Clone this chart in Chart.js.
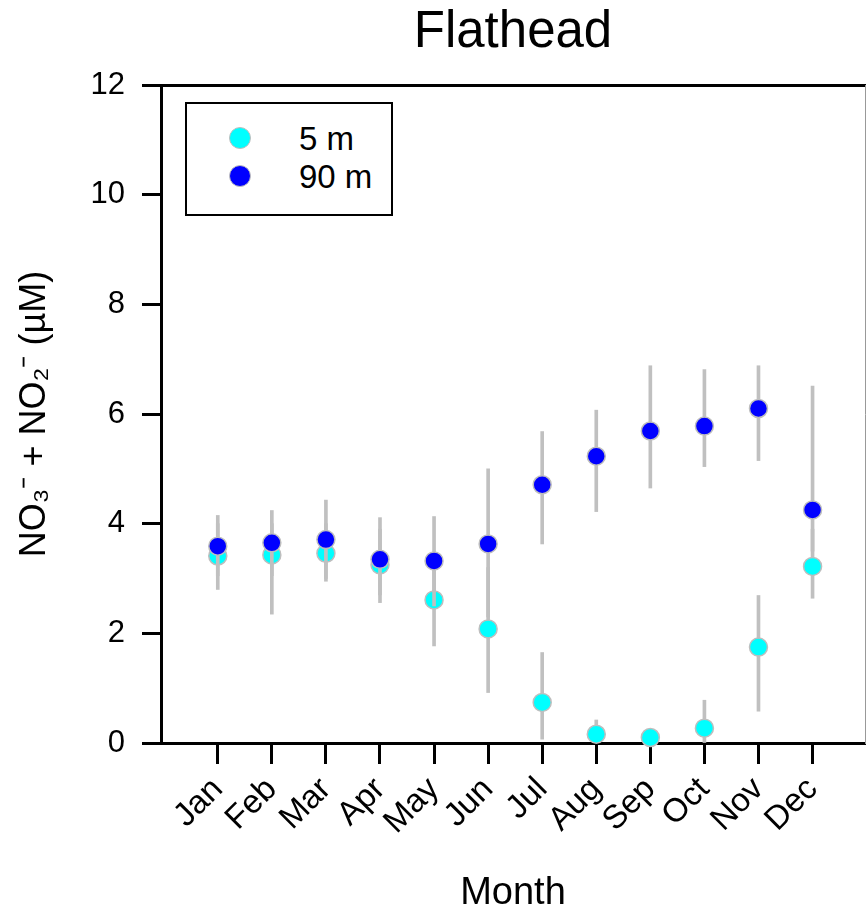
<!DOCTYPE html>
<html>
<head>
<meta charset="utf-8">
<script src="https://cdn.jsdelivr.net/npm/chart.js@4.4.0/dist/chart.umd.min.js"></script>
<style>
  body { margin: 0; background: #fff; }
  #wrap { position: relative; width: 866px; height: 914px; }
  #legend {
    position: absolute; left: 185px; top: 102px; width: 204px; height: 110px;
    border: 2px solid #000; background: #fff;
    font-family: "Liberation Sans", Arial, sans-serif; font-size: 33px; color: #000;
  }
  .item { position: absolute; left: 0; width: 100%; height: 30px; line-height: 30px; }
  .dot { position: absolute; left: 42px; top: 3px; width: 20px; height: 20px; border-radius: 50%; }
  .lbl { position: absolute; left: 112px; white-space: nowrap; }
</style>
</head>
<body>
<div id="wrap">
  <canvas id="chart" width="866" height="914"></canvas>
  <div id="legend"></div>
</div>
<script>
const months = ['Jan', 'Feb', 'Mar', 'Apr', 'May', 'Jun', 'Jul', 'Aug', 'Sep', 'Oct', 'Nov', 'Dec'];
const yTicks = [0, 2, 4, 6, 8, 10, 12];

// means
const surface5m = [3.41, 3.43, 3.46, 3.25, 2.61, 2.08, 0.74, 0.16, 0.10, 0.27, 1.75, 3.22];
const deep90m   = [3.59, 3.65, 3.71, 3.35, 3.32, 3.63, 4.71, 5.23, 5.69, 5.78, 6.10, 4.25];

// error bar ends
const surfaceLow  = [2.80, 2.35, 2.95, 2.56, 1.77, 0.92, 0.07, 0.00, 0.00, 0.00, 0.58, 2.64];
const surfaceHigh = [4.00, 4.00, 4.00, 3.90, 3.40, 3.20, 1.65, 0.42, 0.20, 0.78, 2.69, 3.90];
const deepLow     = [3.05, 3.05, 3.00, 2.70, 2.50, 2.30, 3.63, 4.22, 4.65, 5.04, 5.15, 3.50];
const deepHigh    = [4.15, 4.24, 4.43, 4.11, 4.13, 5.00, 5.68, 6.07, 6.88, 6.81, 6.88, 6.51];

const FONT = '"Liberation Sans", Arial, sans-serif';
const errColor = '#c0c0c0';

function points(values) {
    return values.map((v, i) => ({ x: i + 1, y: v }));
}
function errBars(low, high) {
    return low.map((v, i) => ({ x: i + 1, y: [v, high[i]] }));
}
function pointSet(label, values, color, order) {
    return {
        type: 'scatter',
        label: label,
        data: points(values),
        backgroundColor: color,
        borderColor: '#bebebe',
        borderWidth: 1.5,
        pointRadius: 9,
        order: order,
        clip: false
    };
}
function barSet(low, high, order) {
    return {
        type: 'bar',
        label: 'err',
        data: errBars(low, high),
        backgroundColor: errColor,
        borderWidth: 0,
        barThickness: 3,
        grouped: false,
        order: order
    };
}

const myChart = new Chart(document.getElementById('chart').getContext('2d'), {
    type: 'scatter',
    data: {
        datasets: [
            pointSet('90 m', deep90m, '#0000ff', 0),
            barSet(deepLow, deepHigh, 1),
            pointSet('5 m', surface5m, '#00ffff', 2),
            barSet(surfaceLow, surfaceHigh, 3)
        ]
    },
    options: {
        responsive: false,
        animation: false,
        events: [],
        layout: { padding: 0, autoPadding: false },
        plugins: { legend: { display: false }, tooltip: { enabled: false } },
        scales: {
            x: {
                type: 'linear',
                position: 'bottom',
                min: -0.05,
                max: 12.97,
                offset: false,
                afterBuildTicks: scale => { scale.ticks = months.map((m, i) => ({ value: i + 1 })); },
                afterFit: scale => {
                    scale.height = 171;
                    scale.paddingLeft = 0;
                    scale.paddingRight = 0;
                },
                grid: { drawOnChartArea: false, offset: false, tickLength: 21, tickWidth: 3, tickColor: '#000' },
                border: { color: '#000', width: 3 },
                ticks: {
                    color: '#000',
                    font: { family: FONT, size: 33 },
                    minRotation: 45,
                    maxRotation: 45,
                    padding: 6,
                    autoSkip: false,
                    callback: v => months[v - 1]
                },
                title: {
                    display: true,
                    text: 'Month',
                    color: '#000',
                    font: { family: FONT, size: 38, lineHeight: 1.1 },
                    padding: { top: 0, bottom: 0 }
                }
            },
            y: {
                type: 'linear',
                position: 'left',
                min: 0,
                max: 12,
                afterBuildTicks: scale => { scale.ticks = yTicks.map(v => ({ value: v })); },
                afterFit: scale => {
                    scale.width = 161;
                    scale.paddingTop = 0;
                    scale.paddingBottom = 0;
                },
                grid: { drawOnChartArea: false, tickLength: 19, tickWidth: 3, tickColor: '#000' },
                border: { color: '#000', width: 3 },
                ticks: { color: '#000', font: { family: FONT, size: 31 }, padding: 17 },
                title: {
                    display: true,
                    text: 'NO\u2083\u207B + NO\u2082\u207B (\u00B5M)',
                    color: '#000',
                    font: { family: FONT, size: 36 },
                    padding: { top: 13, bottom: 0 }
                }
            },
            top: {
                type: 'linear',
                position: 'top',
                afterFit: scale => {
                    scale.height = 85;
                    scale.paddingLeft = 0;
                    scale.paddingRight = 0;
                },
                grid: { display: false, drawTicks: false },
                border: { color: '#000', width: 3 },
                ticks: { display: false },
                title: {
                    display: true,
                    text: 'Flathead',
                    color: '#000',
                    font: { family: FONT, size: 51, lineHeight: 1 },
                    padding: { top: 7, bottom: 0 }
                }
            },
            right: {
                type: 'linear',
                position: 'right',
                afterFit: scale => {
                    scale.width = 1;
                    scale.paddingTop = 0;
                    scale.paddingBottom = 0;
                },
                grid: { display: false, drawTicks: false },
                border: { color: '#999', width: 1 },
                ticks: { display: false }
            }
        }
    }
});

// legend from the point datasets, 5 m first
const legend = document.getElementById('legend');
const legendSets = myChart.data.datasets.filter(d => d.type === 'scatter').reverse();
legendSets.forEach((d, i) => {
    const item = document.createElement('div');
    item.className = 'item';
    item.style.top = (20 + i * 37.7) + 'px';
    const dot = document.createElement('span');
    dot.className = 'dot';
    dot.style.background = d.backgroundColor;
    dot.style.border = '1.5px solid ' + d.borderColor;
    const lbl = document.createElement('span');
    lbl.className = 'lbl';
    lbl.textContent = d.label;
    item.appendChild(dot);
    item.appendChild(lbl);
    legend.appendChild(item);
});
</script>
</body>
</html>
